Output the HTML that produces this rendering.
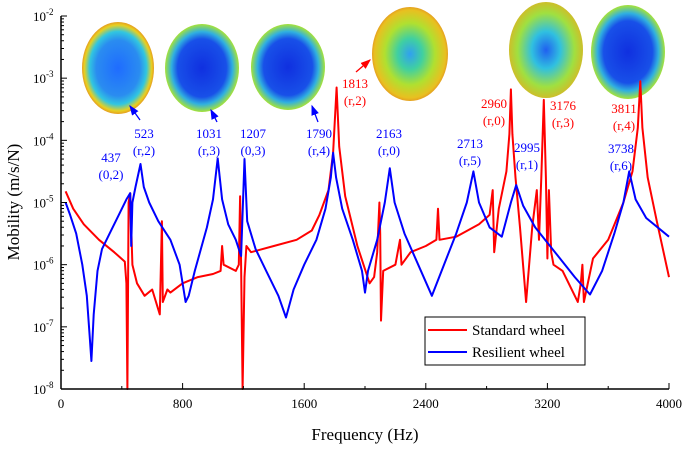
<!DOCTYPE html>
<html><head><meta charset="utf-8"><style>
body{margin:0;background:#fff}
svg{font-family:"Liberation Serif",serif}
</style></head><body>
<svg id="c" width="685" height="447">
<defs>
<radialGradient id="g1" cx="50%" cy="50%" r="55%"><stop offset="0" stop-color="#1f6cff"/><stop offset="0.55" stop-color="#2a8cf0"/><stop offset="0.72" stop-color="#31c6e0"/><stop offset="0.85" stop-color="#e8d020"/><stop offset="1" stop-color="#e05020"/></radialGradient>
<radialGradient id="g2" cx="50%" cy="50%" r="55%"><stop offset="0" stop-color="#1030e0"/><stop offset="0.6" stop-color="#1850e8"/><stop offset="0.75" stop-color="#30b0e0"/><stop offset="0.9" stop-color="#a0e040"/><stop offset="1" stop-color="#e0d020"/></radialGradient>
<radialGradient id="g3" cx="50%" cy="50%" r="55%"><stop offset="0" stop-color="#30a0f0"/><stop offset="0.3" stop-color="#40d0a0"/><stop offset="0.6" stop-color="#b0e030"/><stop offset="0.85" stop-color="#e8c020"/><stop offset="1" stop-color="#e07020"/></radialGradient>
<radialGradient id="g4" cx="50%" cy="50%" r="55%"><stop offset="0" stop-color="#2060f0"/><stop offset="0.35" stop-color="#30c0e0"/><stop offset="0.7" stop-color="#a0e040"/><stop offset="1" stop-color="#e0b020"/></radialGradient>
<marker id="ab" markerWidth="8" markerHeight="8" refX="7" refY="4" orient="auto"><path d="M0,1 L8,4 L0,7 z" fill="#00f"/></marker>
<marker id="ar" markerWidth="8" markerHeight="8" refX="7" refY="4" orient="auto"><path d="M0,1 L8,4 L0,7 z" fill="#f00"/></marker>
</defs>
<g>
<ellipse cx="118" cy="68" rx="36" ry="46" fill="url(#g1)"/>
<ellipse cx="202" cy="68" rx="37" ry="44" fill="url(#g2)"/>
<ellipse cx="288" cy="67" rx="37" ry="43" fill="url(#g2)"/>
<ellipse cx="410" cy="54" rx="38" ry="47" fill="url(#g3)"/>
<ellipse cx="546" cy="50" rx="37" ry="48" fill="url(#g4)"/>
<ellipse cx="628" cy="52" rx="37" ry="47" fill="url(#g2)"/>
</g>
<g id="plot"></g>
<g id="axes"></g>
<g stroke-width="1.3">
<line x1="140" y1="120" x2="130" y2="106" stroke="#00f" marker-end="url(#ab)"/>
<line x1="217" y1="122" x2="211" y2="110" stroke="#00f" marker-end="url(#ab)"/>
<line x1="318" y1="122" x2="312" y2="106" stroke="#00f" marker-end="url(#ab)"/>
<line x1="356" y1="72" x2="370" y2="60" stroke="#f00" marker-end="url(#ar)"/>
</g>
<g font-size="13" fill="#00f" text-anchor="middle">
<text x="111" y="162">437</text><text x="111" y="179">(0,2)</text>
<text x="144" y="138">523</text><text x="144" y="155">(r,2)</text>
<text x="209" y="138">1031</text><text x="209" y="155">(r,3)</text>
<text x="253" y="138">1207</text><text x="253" y="155">(0,3)</text>
<text x="319" y="138">1790</text><text x="319" y="155">(r,4)</text>
<text x="389" y="138">2163</text><text x="389" y="155">(r,0)</text>
<text x="470" y="148">2713</text><text x="470" y="165">(r,5)</text>
<text x="527" y="152">2995</text><text x="527" y="169">(r,1)</text>
<text x="621" y="153">3738</text><text x="621" y="170">(r,6)</text>
</g>
<g font-size="13" fill="#f00" text-anchor="middle">
<text x="355" y="88">1813</text><text x="355" y="105">(r,2)</text>
<text x="494" y="108">2960</text><text x="494" y="125">(r,0)</text>
<text x="563" y="110">3176</text><text x="563" y="127">(r,3)</text>
<text x="624" y="113">3811</text><text x="624" y="130">(r,4)</text>
</g>
<g>
<rect x="425" y="317" width="160" height="48" fill="#fff" stroke="#000" stroke-width="1"/>
<line x1="428" y1="330" x2="467" y2="330" stroke="#f00" stroke-width="2"/>
<text x="472" y="335" font-size="15">Standard wheel</text>
<line x1="428" y1="352" x2="467" y2="352" stroke="#00f" stroke-width="2"/>
<text x="472" y="357" font-size="15">Resilient wheel</text>
</g>
<text x="365" y="440" font-size="17" text-anchor="middle">Frequency (Hz)</text>
<text x="0" y="0" font-size="17" text-anchor="middle" transform="translate(19,202) rotate(-90)">Mobility (m/s/N)</text>
</svg>
<script>
const blueFreq=[30,60,100,140,170,190,200,215,240,270,320,380,430,455,462,470,490,523,545,580,640,720,780,820,840,880,960,1000,1031,1060,1100,1150,1185,1207,1225,1280,1350,1430,1480,1530,1600,1680,1740,1775,1790,1810,1850,1920,1980,2000,2020,2080,2130,2163,2195,2260,2350,2440,2520,2600,2670,2713,2750,2820,2900,2960,2995,3040,3120,3250,3380,3480,3560,3640,3700,3738,3780,3850,4000];
const blueVal=[-5.0,-5.2,-5.5,-6.0,-6.5,-7.2,-7.55,-6.8,-6.1,-5.75,-5.5,-5.2,-4.95,-4.85,-5.7,-5.0,-4.75,-4.38,-4.75,-5.0,-5.3,-5.6,-6.0,-6.6,-6.5,-6.1,-5.4,-4.95,-4.29,-4.95,-5.35,-5.6,-5.86,-4.3,-5.3,-5.75,-6.1,-6.5,-6.85,-6.4,-6.0,-5.6,-5.1,-4.6,-4.2,-4.6,-5.1,-5.6,-6.1,-6.45,-6.1,-5.6,-5.0,-4.45,-5.0,-5.5,-6.0,-6.5,-6.0,-5.5,-5.0,-4.5,-5.0,-5.4,-5.55,-5.0,-4.72,-5.05,-5.4,-5.8,-6.2,-6.48,-6.1,-5.5,-5.0,-4.5,-4.95,-5.25,-5.55];
const redFreq=[30,80,150,250,350,420,430,437,445,455,470,500,550,600,650,664,670,700,720,800,900,1000,1050,1060,1070,1150,1170,1178,1185,1195,1207,1220,1250,1400,1550,1650,1700,1760,1790,1813,1830,1870,1950,2030,2060,2080,2095,2100,2105,2120,2200,2230,2240,2300,2400,2470,2480,2490,2600,2750,2820,2840,2850,2880,2930,2950,2960,2970,2990,3020,3060,3100,3130,3145,3160,3176,3190,3200,3210,3225,3240,3300,3380,3400,3420,3430,3440,3500,3600,3700,3760,3795,3811,3825,3860,3920,4000];
const redVal=[-4.82,-5.1,-5.35,-5.6,-5.8,-5.95,-6.3,-8.0,-5.0,-4.85,-6.0,-6.3,-6.5,-6.4,-6.8,-5.3,-6.6,-6.4,-6.45,-6.3,-6.2,-6.15,-6.1,-5.7,-6.0,-6.1,-6.0,-4.9,-6.0,-8.0,-6.2,-5.7,-5.8,-5.7,-5.6,-5.45,-5.2,-4.8,-4.2,-3.15,-4.1,-4.9,-5.7,-6.3,-6.2,-5.8,-5.0,-5.5,-6.9,-6.1,-6.0,-5.6,-6.0,-5.8,-5.7,-5.6,-5.1,-5.6,-5.55,-5.35,-5.2,-4.8,-5.8,-5.1,-4.5,-3.9,-3.18,-3.9,-4.6,-5.4,-6.6,-5.4,-4.8,-5.6,-4.6,-3.35,-4.6,-5.9,-4.8,-5.8,-6.0,-6.1,-6.5,-6.6,-6.3,-6.0,-6.6,-5.9,-5.6,-5.0,-4.5,-3.8,-3.05,-3.8,-4.6,-5.3,-6.2];
const xTicks=[0,800,1600,2400,3200,4000];
const yTicks=[-8,-7,-6,-5,-4,-3,-2];
const X0=61,X1=669,Y0=389,Y1=16;
const sx=f=>X0+(f/4000)*(X1-X0);
const sy=v=>Y0-((v+8)/6)*(Y0-Y1);
const NS="http://www.w3.org/2000/svg";
function mk(t,a,p){const e=document.createElementNS(NS,t);for(const k in a)e.setAttribute(k,a[k]);p.appendChild(e);return e;}
const plot=document.getElementById('plot'),axes=document.getElementById('axes');
function line(fr,vals,col,name){
 const pts=fr.map((f,i)=>sx(f).toFixed(1)+','+sy(Math.max(-8,vals[i])).toFixed(1)).join(' ');
 const p=mk('polyline',{points:pts,fill:'none',stroke:col,'stroke-width':2,'stroke-linejoin':'round'},plot);
 
 
}
line(redFreq,redVal,'#f00','standard-wheel-line');
line(blueFreq,blueVal,'#00f','resilient-wheel-line');
mk('line',{x1:X0,y1:Y1,x2:X0,y2:Y0,stroke:'#000','stroke-width':1.5},axes);
mk('line',{x1:X0,y1:Y0,x2:X1,y2:Y0,stroke:'#000','stroke-width':1.5},axes);
xTicks.forEach(t=>{
 mk('line',{x1:sx(t),y1:Y0,x2:sx(t),y2:Y0-6,stroke:'#000'},axes);
 const tx=mk('text',{x:sx(t),y:Y0+19,'font-size':13,'text-anchor':'middle'},axes);
 tx.textContent=t;
 
 
});
for(let t=400;t<4000;t+=800)mk('line',{x1:sx(t),y1:Y0,x2:sx(t),y2:Y0-3,stroke:'#000'},axes);
yTicks.forEach(t=>{
 mk('line',{x1:X0,y1:sy(t),x2:X0+6,y2:sy(t),stroke:'#000'},axes);
 if(t<-2)for(let m=2;m<10;m++){const y=sy(t+Math.log10(m));mk('line',{x1:X0,y1:y,x2:X0+3,y2:y,stroke:'#000'},axes);}
 const tx=mk('text',{x:33,y:sy(t)+5,'font-size':13},axes);
 
 
 tx.innerHTML='10<tspan dy="-6" font-size="9">'+t+'</tspan>';
});
</script>
</body></html>
